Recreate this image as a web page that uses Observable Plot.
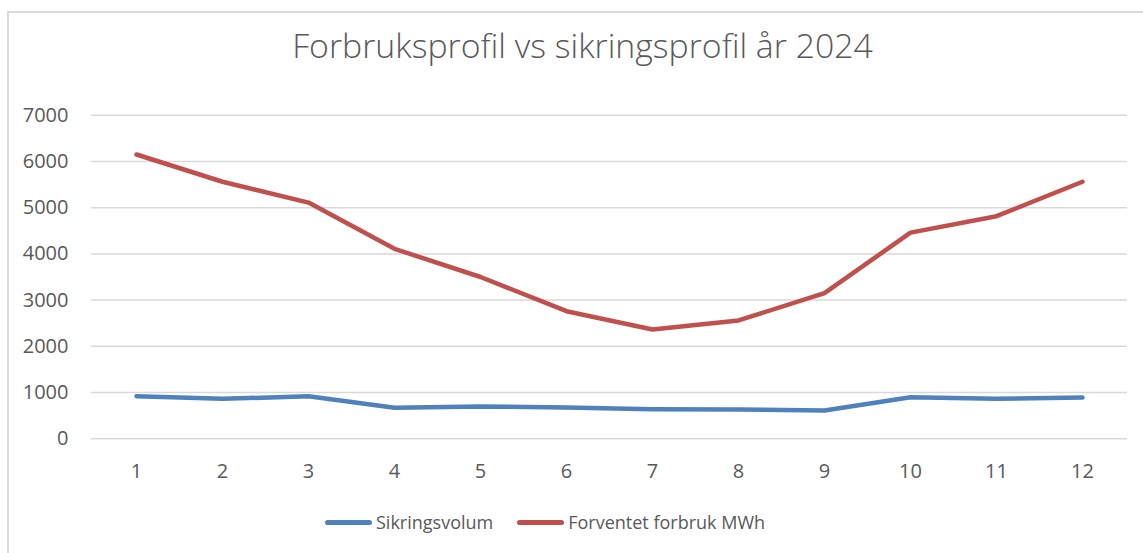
<!DOCTYPE html>
<html>
<head>
<meta charset="utf-8">
<script src="https://cdn.jsdelivr.net/npm/d3@7"></script>
<script src="https://cdn.jsdelivr.net/npm/@observablehq/plot@0.6"></script>
<style>
  html, body { margin: 0; padding: 0; background: #fff; overflow: hidden; }
  body { width: 1143px; height: 553px; position: relative; font-family: "Open Sans", sans-serif; color: #595959; }
  #frame { position: absolute; left: 7px; top: 11px; width: 1160px; height: 600px; border: 2px solid #d9d9d9; box-sizing: border-box; }
  #title { position: absolute; left: 0; width: 1165px; top: 22px; text-align: center; font-size: 33.8px; font-weight: 300; color: #595959; white-space: nowrap; }
  #chart { position: absolute; left: 0; top: 0; }
  #legend { position: absolute; top: 510px; left: 325px; display: flex; align-items: center; font-size: 18px; color: #595959; white-space: nowrap; }
  .item { display: flex; align-items: center; }
  .sw { width: 47px; height: 5px; border-radius: 3px; margin-right: 4px; }
</style>
</head>
<body>
<div id="frame"></div>
<div id="title">Forbruksprofil vs sikringsprofil år 2024</div>
<div id="chart"></div>
<div id="legend"></div>
<script>
const months = [1, 2, 3, 4, 5, 6, 7, 8, 9, 10, 11, 12];
const sikringsvolum = [920, 865, 920, 670, 700, 677, 640, 634, 612, 900, 865, 893];
const forventetForbruk = [6150, 5560, 5110, 4110, 3500, 2760, 2365, 2560, 3150, 4460, 4815, 5560];
const yTicks = [0, 1000, 2000, 3000, 4000, 5000, 6000, 7000];
const seriesNames = ["Sikringsvolum", "Forventet forbruk MWh"];
const seriesColors = ["#4f81bd", "#c0504d"];

const rows = [];
months.forEach((m, i) => {
  rows.push({month: m, value: sikringsvolum[i], series: seriesNames[0]});
  rows.push({month: m, value: forventetForbruk[i], series: seriesNames[1]});
});

const chart = Plot.plot({
  width: 1143,
  height: 553,
  marginLeft: 91,
  marginRight: 16,
  marginTop: 114.7,
  marginBottom: 114.7,
  style: {fontFamily: "Open Sans, sans-serif", fontSize: "20px", color: "#595959", background: "transparent", overflow: "visible"},
  x: {type: "point", domain: months, padding: 0.5, label: null},
  y: {domain: [0, 7000], label: null},
  color: {domain: seriesNames, range: seriesColors},
  marks: [
    Plot.ruleY(yTicks, {stroke: "#d9d9d9", strokeWidth: 1.5}),
    Plot.axisY({ticks: yTicks, tickSize: 0, tickPadding: 23, label: null, tickFormat: d => String(d)}),
    Plot.axisX({tickSize: 0, tickPadding: 25, label: null}),
    Plot.line(rows, {x: "month", y: "value", z: "series", stroke: "series", strokeWidth: 4.5, strokeLinecap: "round", strokeLinejoin: "round"})
  ]
});
document.getElementById("chart").appendChild(chart);

const legend = document.getElementById("legend");
seriesNames.forEach((name, i) => {
  const item = document.createElement("div");
  item.className = "item";
  if (i > 0) item.style.marginLeft = "24px";
  const sw = document.createElement("div");
  sw.className = "sw";
  sw.style.background = seriesColors[i];
  const label = document.createElement("span");
  label.textContent = name;
  item.appendChild(sw);
  item.appendChild(label);
  legend.appendChild(item);
});
</script>
</body>
</html>
